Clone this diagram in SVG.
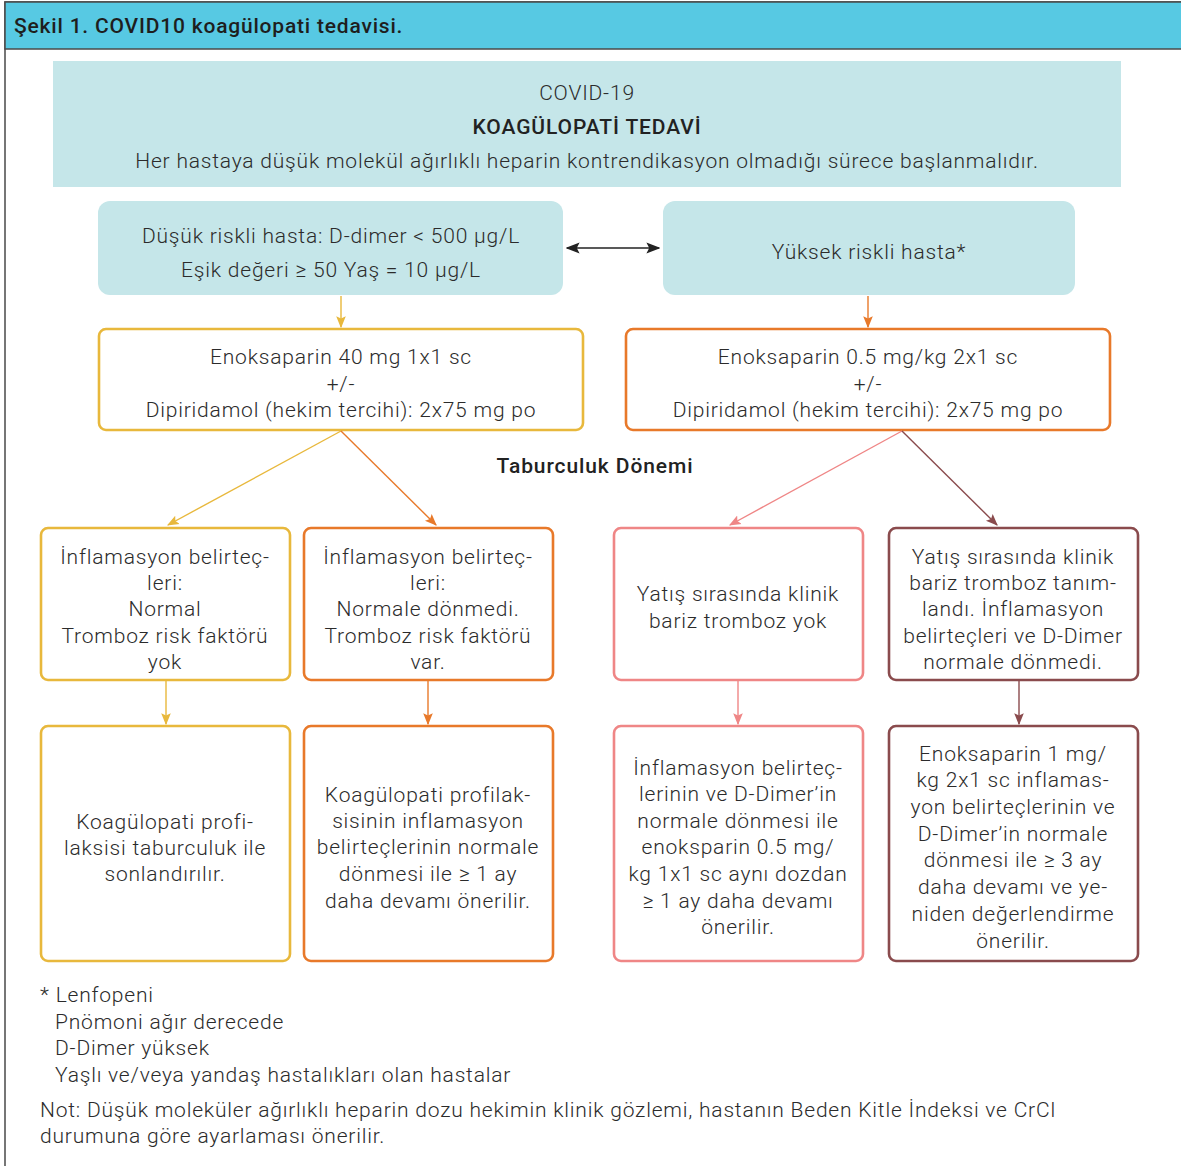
<svg xmlns="http://www.w3.org/2000/svg" width="1181" height="1166" viewBox="0 0 1181 1166">
<defs>
<style>
text{font-family:Roboto,"Liberation Sans",sans-serif;font-weight:300;fill:#2b2b2b;font-size:21px;letter-spacing:0.8px}
.c{text-anchor:middle}
.b{font-weight:500;fill:#222;letter-spacing:0.9px}
.ttl{font-weight:500;font-size:21px;fill:#1e1e1e;letter-spacing:0.8px}
.blue{fill:#C5E6E9}
.box{fill:#fff;stroke-width:2.6}
.y{stroke:#E8B83C}.o{stroke:#E8792A}.p{stroke:#EF8686}.r{stroke:#8A4B4D}
.ln{fill:none;stroke-width:1.4}
</style>
<marker id="mY" viewBox="0 0 10 10" refX="9" refY="5" markerWidth="12" markerHeight="12" markerUnits="userSpaceOnUse" orient="auto"><path d="M0,1L10,5L0,9L2,5z" fill="#E8B83C"/></marker>
<marker id="mO" viewBox="0 0 10 10" refX="9" refY="5" markerWidth="12" markerHeight="12" markerUnits="userSpaceOnUse" orient="auto"><path d="M0,1L10,5L0,9L2,5z" fill="#E8792A"/></marker>
<marker id="mP" viewBox="0 0 10 10" refX="9" refY="5" markerWidth="12" markerHeight="12" markerUnits="userSpaceOnUse" orient="auto"><path d="M0,1L10,5L0,9L2,5z" fill="#EF8686"/></marker>
<marker id="mR" viewBox="0 0 10 10" refX="9" refY="5" markerWidth="12" markerHeight="12" markerUnits="userSpaceOnUse" orient="auto"><path d="M0,1L10,5L0,9L2,5z" fill="#8A4B4D"/></marker>
<marker id="mK" viewBox="0 0 10 10" refX="9" refY="5" markerWidth="14" markerHeight="14" markerUnits="userSpaceOnUse" orient="auto-start-reverse"><path d="M0,1L10,5L0,9L2,5z" fill="#222"/></marker>
</defs>
<rect width="1181" height="1166" fill="#fff"/>
<g id="frame">
<rect x="5" y="2" width="1180" height="1170" fill="#fff" stroke="#4a4a4a" stroke-width="1.5"/>
<rect x="5" y="2" width="1180" height="47" fill="#57C9E3" stroke="#4a4a4a" stroke-width="1.5"/>
<text class="ttl" x="14" y="33">Şekil 1. COVID10 koagülopati tedavisi.</text>
</g>
<g id="header">
<rect class="blue" x="53" y="61" width="1068" height="126"/>
<text class="c" x="587" y="100">COVID-19</text>
<text class="c b" x="587" y="134" font-size="20">KOAGÜLOPATİ TEDAVİ</text>
<text class="c" x="587" y="168">Her hastaya düşük molekül ağırlıklı heparin kontrendikasyon olmadığı sürece başlanmalıdır.</text>
</g>
<g id="low-risk">
<rect class="blue" x="98" y="201" width="465" height="94" rx="12"/>
<text class="c" x="331" y="243">Düşük riskli hasta: D-dimer &lt; 500 µg/L</text>
<text class="c" x="331" y="277">Eşik değeri ≥ 50 Yaş = 10 µg/L</text>
</g>
<g id="high-risk">
<rect class="blue" x="663" y="201" width="412" height="94" rx="12"/>
<text class="c" x="869" y="259">Yüksek riskli hasta*</text>
</g>
<g id="enox-low">
<rect class="box y" x="99" y="329" width="484" height="101" rx="7"/>
<text class="c" x="341" y="364">Enoksaparin 40 mg 1x1 sc</text>
<text class="c" x="341" y="391">+/-</text>
<text class="c" x="341" y="417">Dipiridamol (hekim tercihi): 2x75 mg po</text>
</g>
<g id="enox-high">
<rect class="box o" x="626" y="329" width="484" height="101" rx="7"/>
<text class="c" x="868" y="364">Enoksaparin 0.5 mg/kg 2x1 sc</text>
<text class="c" x="868" y="391">+/-</text>
<text class="c" x="868" y="417">Dipiridamol (hekim tercihi): 2x75 mg po</text>
</g>
<g id="label-taburculuk">
<text class="c b" x="595" y="473" font-size="20">Taburculuk Dönemi</text>
</g>
<g id="n1">
<rect class="box y" x="41" y="528" width="249" height="152" rx="7"/>
<text class="c" x="165" y="564">İnflamasyon belirteç-</text>
<text class="c" x="165" y="590">leri:</text>
<text class="c" x="165" y="616">Normal</text>
<text class="c" x="165" y="643">Tromboz risk faktörü</text>
<text class="c" x="165" y="669">yok</text>
</g>
<g id="n2">
<rect class="box o" x="304" y="528" width="249" height="152" rx="7"/>
<text class="c" x="428" y="564">İnflamasyon belirteç-</text>
<text class="c" x="428" y="590">leri:</text>
<text class="c" x="428" y="616">Normale dönmedi.</text>
<text class="c" x="428" y="643">Tromboz risk faktörü</text>
<text class="c" x="428" y="669">var.</text>
</g>
<g id="n3">
<rect class="box p" x="614" y="528" width="249" height="152" rx="7"/>
<text class="c" x="738" y="601">Yatış sırasında klinik</text>
<text class="c" x="738" y="628">bariz tromboz yok</text>
</g>
<g id="n4">
<rect class="box r" x="889" y="528" width="249" height="152" rx="7"/>
<text class="c" x="1013" y="564">Yatış sırasında klinik</text>
<text class="c" x="1013" y="590">bariz tromboz tanım-</text>
<text class="c" x="1013" y="616">landı. İnflamasyon</text>
<text class="c" x="1013" y="643">belirteçleri ve D-Dimer</text>
<text class="c" x="1013" y="669">normale dönmedi.</text>
</g>
<g id="n5">
<rect class="box y" x="41" y="726" width="249" height="235" rx="7"/>
<text class="c" x="165" y="829">Koagülopati profi-</text>
<text class="c" x="165" y="855">laksisi taburculuk ile</text>
<text class="c" x="165" y="881">sonlandırılır.</text>
</g>
<g id="n6">
<rect class="box o" x="304" y="726" width="249" height="235" rx="7"/>
<text class="c" x="428" y="802">Koagülopati profilak-</text>
<text class="c" x="428" y="828">sisinin inflamasyon</text>
<text class="c" x="428" y="854">belirteçlerinin normale</text>
<text class="c" x="428" y="881">dönmesi ile ≥ 1 ay</text>
<text class="c" x="428" y="908">daha devamı önerilir.</text>
</g>
<g id="n7">
<rect class="box p" x="614" y="726" width="249" height="235" rx="7"/>
<text class="c" x="738" y="775">İnflamasyon belirteç-</text>
<text class="c" x="738" y="801">lerinin ve D-Dimer’in</text>
<text class="c" x="738" y="828">normale dönmesi ile</text>
<text class="c" x="738" y="854">enoksparin 0.5 mg/</text>
<text class="c" x="738" y="881">kg 1x1 sc aynı dozdan</text>
<text class="c" x="738" y="908">≥ 1 ay daha devamı</text>
<text class="c" x="738" y="934">önerilir.</text>
</g>
<g id="n8">
<rect class="box r" x="889" y="726" width="249" height="235" rx="7"/>
<text class="c" x="1013" y="761">Enoksaparin 1 mg/</text>
<text class="c" x="1013" y="787">kg 2x1 sc inflamas-</text>
<text class="c" x="1013" y="814">yon belirteçlerinin ve</text>
<text class="c" x="1013" y="841">D-Dimer’in normale</text>
<text class="c" x="1013" y="867">dönmesi ile ≥ 3 ay</text>
<text class="c" x="1013" y="894">daha devamı ve ye-</text>
<text class="c" x="1013" y="921">niden değerlendirme</text>
<text class="c" x="1013" y="948">önerilir.</text>
</g>
<g id="connectors">
<line x1="567" y1="248" x2="659" y2="248" stroke="#222" stroke-width="1.6" marker-start="url(#mK)" marker-end="url(#mK)"/>
<line class="ln" x1="341" y1="296" x2="341" y2="327" stroke="#E8B83C" marker-end="url(#mY)"/>
<line class="ln" x1="868" y1="296" x2="868" y2="327" stroke="#E8792A" marker-end="url(#mO)"/>
<line class="ln" x1="341" y1="431" x2="168" y2="525" stroke="#E8B83C" marker-end="url(#mY)"/>
<line class="ln" x1="341" y1="431" x2="436" y2="525" stroke="#E8792A" marker-end="url(#mO)"/>
<line class="ln" x1="902" y1="431" x2="730" y2="525" stroke="#EF8686" marker-end="url(#mP)"/>
<line class="ln" x1="902" y1="431" x2="997" y2="525" stroke="#8A4B4D" marker-end="url(#mR)"/>
<line class="ln" x1="166" y1="681" x2="166" y2="724" stroke="#E8B83C" marker-end="url(#mY)"/>
<line class="ln" x1="428" y1="681" x2="428" y2="724" stroke="#E8792A" marker-end="url(#mO)"/>
<line class="ln" x1="738" y1="681" x2="738" y2="724" stroke="#EF8686" marker-end="url(#mP)"/>
<line class="ln" x1="1019" y1="681" x2="1019" y2="724" stroke="#8A4B4D" marker-end="url(#mR)"/>
</g>
<g id="footnote">
<text x="40" y="1002">* Lenfopeni</text>
<text x="55" y="1029">Pnömoni ağır derecede</text>
<text x="55" y="1055">D-Dimer yüksek</text>
<text x="55" y="1082">Yaşlı ve/veya yandaş hastalıkları olan hastalar</text>
<text x="40" y="1117" letter-spacing="0.75">Not: Düşük moleküler ağırlıklı heparin dozu hekimin klinik gözlemi, hastanın Beden Kitle İndeksi ve CrCl</text>
<text x="40" y="1143">durumuna göre ayarlaması önerilir.</text>
</g>
</svg>
